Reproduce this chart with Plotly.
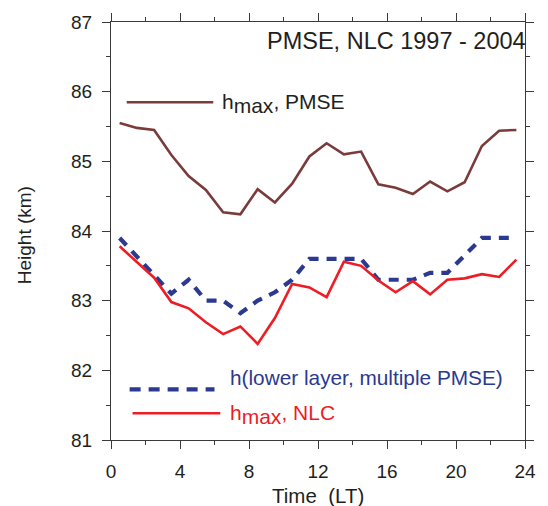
import plotly.graph_objects as go

# ---- data ----
hours = [0.5, 1.5, 2.5, 3.5, 4.5, 5.5, 6.5, 7.5, 8.5, 9.5, 10.5, 11.5,
         12.5, 13.5, 14.5, 15.5, 16.5, 17.5, 18.5, 19.5, 20.5, 21.5, 22.5, 23.5]
hmax_pmse = [85.55, 85.48, 85.45, 85.09, 84.79, 84.59, 84.27, 84.24, 84.60, 84.41, 84.68, 85.07,
             85.26, 85.10, 85.14, 84.67, 84.62, 84.53, 84.71, 84.57, 84.70, 85.22, 85.44, 85.45]
h_lower = [83.90, 83.64, 83.38, 83.10, 83.30, 83.00, 83.00, 82.82, 83.00, 83.12, 83.30, 83.60,
           83.60, 83.60, 83.60, 83.30, 83.30, 83.30, 83.40, 83.40, 83.65, 83.90, 83.90, 83.90]
hmax_nlc = [83.78, 83.55, 83.33, 82.98, 82.89, 82.69, 82.52, 82.63, 82.38, 82.75, 83.24, 83.19,
            83.05, 83.56, 83.50, 83.29, 83.12, 83.28, 83.09, 83.30, 83.32, 83.38, 83.34, 83.59]

x_ticks = [0, 4, 8, 12, 16, 20, 24]
y_ticks = [81, 82, 83, 84, 85, 86, 87]

BROWN = "#7B3B3B"
BLUE = "#2B3990"
RED = "#EE1C25"
TXT = "#231F20"
AX = "#3a3a3a"
FONT = "Liberation Sans, Arial, sans-serif"

fig = go.Figure()
fig.add_trace(go.Scatter(x=hours, y=hmax_pmse, mode="lines",
                         line=dict(color=BROWN, width=2.6), showlegend=False))
fig.add_trace(go.Scatter(x=hours, y=h_lower, mode="lines",
                         line=dict(color=BLUE, width=4.2, dash="10px,8px"), showlegend=False))
fig.add_trace(go.Scatter(x=hours, y=hmax_nlc, mode="lines",
                         line=dict(color=RED, width=2.6), showlegend=False))

axis_common = dict(showline=True, linecolor=AX, linewidth=1.2, mirror="ticks",
                   ticks="outside", ticklen=8, tickwidth=1.2, tickcolor=AX,
                   showgrid=False, zeroline=False,
                   tickfont=dict(family=FONT, size=19, color=TXT))

fig.update_xaxes(range=[0, 24], tickvals=x_ticks, ticktext=[str(v) for v in x_ticks],
                 minor=dict(dtick=2, tick0=0, ticks="outside", ticklen=4, tickwidth=1.2, tickcolor=AX),
                 ticklabelstandoff=6, **axis_common)
fig.update_yaxes(range=[81, 87], tickvals=y_ticks, ticktext=[str(v) for v in y_ticks],
                 minor=dict(dtick=0.5, tick0=81, ticks="outside", ticklen=4, tickwidth=1.2, tickcolor=AX),
                 ticklabelstandoff=6, **axis_common)

# legend samples (paper coords)
shapes = [
    dict(type="line", xref="paper", yref="paper", x0=0.038, x1=0.247, y0=0.808, y1=0.808,
         line=dict(color=BROWN, width=2.6)),
    dict(type="line", xref="paper", yref="paper", x0=0.045, x1=0.250, y0=0.121, y1=0.121,
         line=dict(color=BLUE, width=4.2, dash="11px,8px")),
    dict(type="line", xref="paper", yref="paper", x0=0.052, x1=0.264, y0=0.064, y1=0.064,
         line=dict(color=RED, width=2.6)),
]

sub = '<sub><span style="font-size:21px">max</span></sub>'
annotations = [
    dict(text="PMSE, NLC 1997 - 2004", xref="paper", yref="paper", x=1.007, y=0.955,
         xanchor="right", yanchor="middle", showarrow=False,
         font=dict(family=FONT, size=23.5, color=TXT)),
    dict(text="h" + sub + ", PMSE", xref="paper", yref="paper", x=0.264, y=0.805,
         xanchor="left", yanchor="middle", showarrow=False,
         font=dict(family=FONT, size=21, color=TXT)),
    dict(text="h(lower layer, multiple PMSE)", xref="paper", yref="paper", x=0.283, y=0.149,
         xanchor="left", yanchor="middle", showarrow=False,
         font=dict(family=FONT, size=20.8, color=BLUE)),
    dict(text="h" + sub + ", NLC", xref="paper", yref="paper", x=0.283, y=0.062,
         xanchor="left", yanchor="middle", showarrow=False,
         font=dict(family=FONT, size=21, color=RED)),
    dict(text="Height (km)", xref="paper", yref="paper", x=-0.21, y=0.49,
         xanchor="center", yanchor="middle", textangle=-90, showarrow=False,
         font=dict(family=FONT, size=19, color=TXT)),
    dict(text="Time\u00a0 (LT)", xref="paper", yref="paper", x=0.5, y=-0.133,
         xanchor="center", yanchor="middle", showarrow=False,
         font=dict(family=FONT, size=20.5, color=TXT)),
]

fig.update_layout(width=548, height=506, margin=dict(l=111, r=17, t=19, b=66),
                  paper_bgcolor="white", plot_bgcolor="white",
                  shapes=shapes, annotations=annotations, showlegend=False)

fig.write_html("out.html")
